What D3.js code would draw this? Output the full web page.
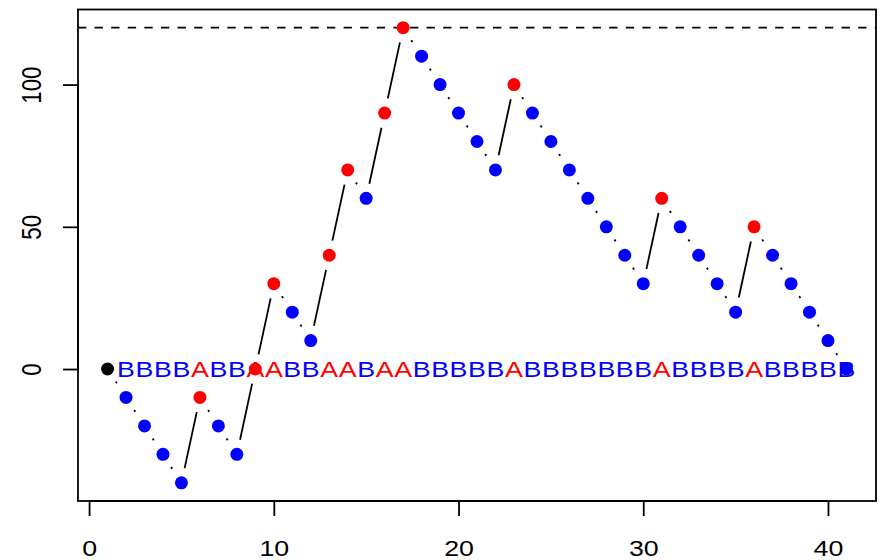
<!DOCTYPE html>
<html>
<head>
<meta charset="utf-8">
<script src="https://cdn.jsdelivr.net/npm/d3@7"></script>
<style>
  html, body { margin: 0; padding: 0; background: #fff; }
  svg { display: block; font-family: "Liberation Sans", Arial, sans-serif; }
</style>
</head>
<body>
<svg id="chart" width="880" height="560"></svg>
<script>
// ---- data ----
const xValues = [1,2,3,4,5,6,7,8,9,10,11,12,13,14,15,16,17,18,19,20,21,22,23,24,25,26,27,28,29,30,31,32,33,34,35,36,37,38,39,40,41];
const yValues = [0,-10,-20,-30,-40,-10,-20,-30,0,30,20,10,40,70,60,90,120,110,100,90,80,70,100,90,80,70,60,50,40,30,60,50,40,30,20,50,40,30,20,10,0];
const stepLabels = ["B","B","B","B","A","B","B","A","A","B","B","A","A","B","A","A","B","B","B","B","B","A","B","B","B","B","B","B","B","A","B","B","B","B","A","B","B","B","B","B"];
const xTicks = [0,10,20,30,40];
const yTicks = [0,50,100];
const refLine = 120;
const labelColor = {A: "#FF0000", B: "#0000FF"};

// ---- layout ----
const svg = d3.select("#chart");
const L = 78, R = 876, T = 9.5, B = 501;
const x = d3.scaleLinear().domain([-0.6, 42.6]).range([L, R]);
const y = d3.scaleLinear().domain([-46.4, 126.4]).range([B, T]);
const fs = 22.3;
const sx = 1.2; // horizontal glyph stretch seen in the reference

// reference dashed line
svg.append("line")
  .attr("x1", L).attr("x2", R)
  .attr("y1", y(refLine)).attr("y2", y(refLine))
  .attr("stroke", "#000").attr("stroke-width", 1.8)
  .attr("stroke-dasharray", "8.3,8.3");

// segments with gaps around points
const gap = 15;
const segs = stepLabels.map((lab, i) => ({
  x0: x(xValues[i]), y0: y(yValues[i]),
  x1: x(xValues[i+1]), y1: y(yValues[i+1]), lab
}));
svg.append("g").selectAll("line").data(segs).join("line")
  .each(function(d) {
    const dx = d.x1 - d.x0, dy = d.y1 - d.y0;
    const len = Math.hypot(dx, dy);
    const ux = dx / len, uy = dy / len;
    d3.select(this)
      .attr("x1", d.x0 + ux * gap).attr("y1", d.y0 + uy * gap)
      .attr("x2", d.x1 - ux * gap).attr("y2", d.y1 - uy * gap);
  })
  .attr("stroke", "#000")
  .attr("stroke-width", 1.8)
  .attr("stroke-dasharray", d => d.lab === "B" ? "2.1,6.2" : null);

// points
svg.append("g").selectAll("circle").data(xValues).join("circle")
  .attr("cx", (d, i) => x(d))
  .attr("cy", (d, i) => y(yValues[i]))
  .attr("r", 6.5)
  .attr("fill", (d, i) => i === 0 ? "#000" : labelColor[stepLabels[i-1]]);

// letters along y = 0
svg.append("g").selectAll("text").data(stepLabels).join("text")
  .attr("transform", (d, i) => `translate(${x(xValues[i+1])},${y(0) + 0.358 * fs}) scale(${sx},1)`)
  .attr("text-anchor", "middle")
  .style("font-size", fs + "px")
  .attr("fill", d => labelColor[d])
  .text(d => d);

// box
svg.append("rect")
  .attr("x", L).attr("y", T).attr("width", R - L).attr("height", B - T)
  .attr("fill", "none").attr("stroke", "#000").attr("stroke-width", 1.8);

// x axis
const gx = svg.append("g").attr("transform", `translate(0,${B})`)
  .call(d3.axisBottom(x).tickValues(xTicks).tickSize(15).tickFormat(d3.format("d")));
gx.select(".domain").remove();
gx.selectAll(".tick line").attr("stroke", "#000").attr("stroke-width", 1.8);
gx.selectAll(".tick text").attr("y", null).attr("dy", null)
  .attr("transform", `translate(0,55) scale(${sx},1)`)
  .style("font-size", fs + "px").attr("font-family", "Liberation Sans, Arial, sans-serif").attr("fill", "#000");
gx.append("line").attr("x1", x(xTicks[0])).attr("x2", x(xTicks[xTicks.length-1]))
  .attr("y1", 0).attr("y2", 0).attr("stroke", "#000").attr("stroke-width", 1.8);

// y axis
const gy = svg.append("g").attr("transform", `translate(${L},0)`)
  .call(d3.axisLeft(y).tickValues(yTicks).tickSize(15).tickFormat(d3.format("d")));
gy.select(".domain").remove();
gy.selectAll(".tick line").attr("stroke", "#000").attr("stroke-width", 1.8);
gy.selectAll(".tick text")
  .attr("x", null).attr("dy", null)
  .attr("transform", `translate(-37.5,0) scale(${sx},1) rotate(-90)`)
  .attr("text-anchor", "middle")
  .style("font-size", fs + "px").attr("font-family", "Liberation Sans, Arial, sans-serif").attr("fill", "#000");
gy.append("line").attr("y1", y(yTicks[0])).attr("y2", y(yTicks[yTicks.length-1]))
  .attr("x1", 0).attr("x2", 0).attr("stroke", "#000").attr("stroke-width", 1.8);
</script>
</body>
</html>
